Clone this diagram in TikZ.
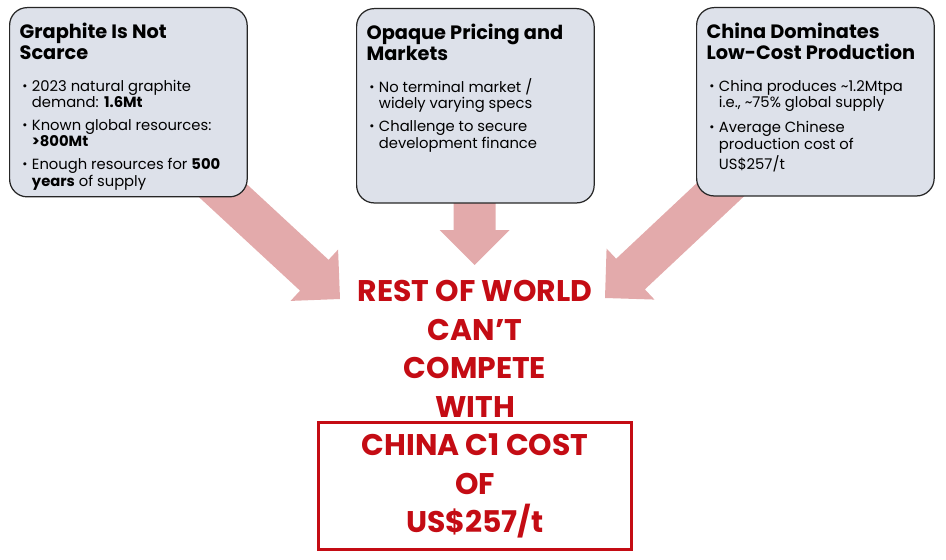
\documentclass[tikz,border=0pt]{standalone}
\usepackage{fontspec}
\setmainfont{Poppins}
\usepackage{enumitem}
\usetikzlibrary{calc}

\definecolor{panelfill}{RGB}{221,225,234}
\definecolor{arrowfill}{RGB}{227,170,171}
\definecolor{alertred}{RGB}{196,12,20}

\newlist{facts}{itemize}{1}
\setlist[facts]{label=\raisebox{0.15ex}{\scalebox{0.85}{\textbullet}}, leftmargin=7pt, labelsep=2.5pt,
  topsep=9.6pt, itemsep=5pt, parsep=0pt, partopsep=0pt}

% panel text: height, title, items
\newcommand{\panelbody}[3]{\parbox[t][#1][t]{123.8pt}{\raggedright\fontsize{8.4}{8.6}\selectfont
  {\fontsize{11}{12.5}\selectfont\bfseries #2\par}\begin{facts}#3\end{facts}}}

% block arrow from tail to tip
\newcommand{\bigarrow}[2]{%
  \coordinate (hb) at ($(#2)!0.7cm!(#1)$);
  \fill[arrowfill] ($(#1)!0.42cm!90:(#2)$) -- ($(hb)!0.42cm!-90:(#1)$) -- ($(hb)!0.7cm!-90:(#1)$)
    -- (#2) -- ($(hb)!0.7cm!90:(#1)$) -- ($(hb)!0.42cm!90:(#1)$) -- ($(#1)!0.42cm!-90:(#2)$) -- cycle;}

\begin{document}
\begin{tikzpicture}[x=0.02cm, y=-0.02cm,
        panel/.style={draw=black!85, line width=0.7pt, fill=panelfill, rounded corners=10pt,
          anchor=north west, inner xsep=5.7pt, inner ysep=8.5pt},
        verdict/.style={text=alertred, font=\fontsize{17}{22}\selectfont\bfseries, align=center, inner sep=0pt}
    ]
    \useasboundingbox (0,0) rectangle (946,560);

    % Arrows
    \coordinate (scarce-tail) at (193,163);
    \coordinate (scarce-tip) at (340,299);
    \coordinate (pricing-tail) at (474.5,180);
    \coordinate (pricing-tip) at (474.5,265);
    \coordinate (china-tail) at (751,161);
    \coordinate (china-tip) at (605,298);
    \bigarrow{scarce-tail}{scarce-tip}
    \bigarrow{pricing-tail}{pricing-tip}
    \bigarrow{china-tail}{china-tip}

    % Panels
    \node[panel] (scarce) at (9,7) {\panelbody{90.7pt}{Graphite Is Not\\Scarce}{%
        \item 2023 natural graphite\\demand: \textbf{1.6Mt}
        \item Known global resources:\\\textbf{>800Mt}
        \item Enough resources for \textbf{500}\\\textbf{years} of supply}};
    \node[panel] (pricing) at (356,8) {\panelbody{93.6pt}{Opaque Pricing and\\Markets}{%
        \item No terminal market /\\widely varying specs
        \item Challenge to secure\\development finance}};
    \node[panel] (china) at (696,7) {\panelbody{90.2pt}{China Dominates\\Low-Cost Production}{%
        \item China produces \textasciitilde1.2Mtpa\\i.e., \textasciitilde75\% global supply
        \item Average Chinese\\production cost of\\US\$257/t}};

    % Conclusion
    \node[verdict, anchor=north] (rest) at (475,280) {REST OF WORLD\\CAN’T\\COMPETE\\WITH};
    \node[verdict, draw=alertred, line width=1.7pt, minimum width=178pt, minimum height=72.6pt]
        (c1cost) at (475,486) {CHINA C1 COST\\OF\\US\$257/t};
\end{tikzpicture}
\end{document}
